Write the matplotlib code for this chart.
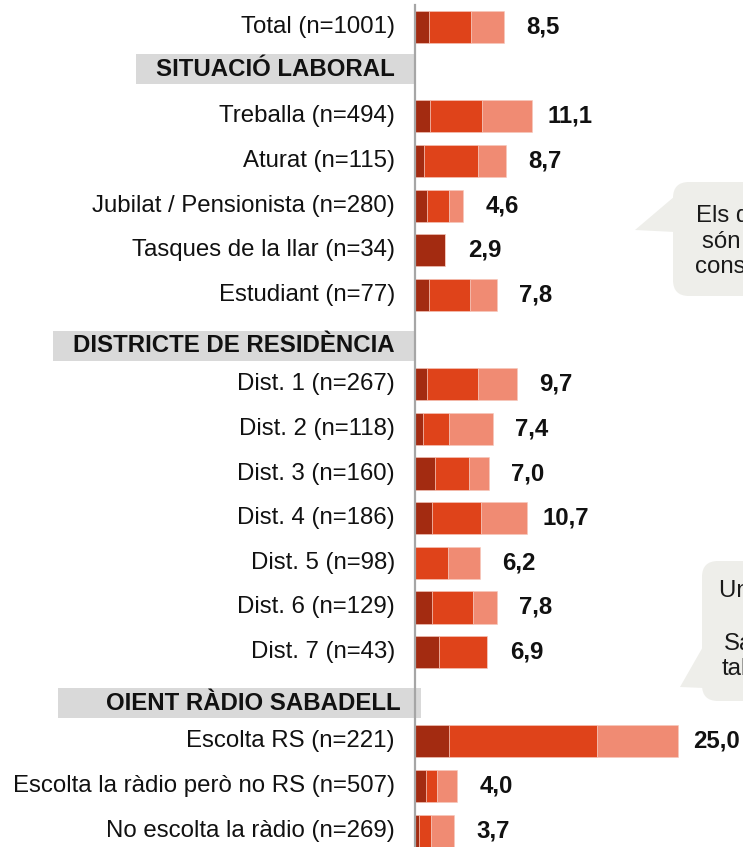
import matplotlib
matplotlib.use("Agg")
import matplotlib.pyplot as plt
import matplotlib.transforms as mtransforms
from matplotlib.patches import Rectangle, FancyBboxPatch, Polygon

plt.rcParams['font.family'] = ['Liberation Sans', 'DejaVu Sans']

# rows (top to bottom), split in sections after the first "Total" row
total_label = 'Total (n=1001)'
sections = ['SITUACIÓ LABORAL', 'DISTRICTE DE RESIDÈNCIA', 'OIENT RÀDIO SABADELL']
section_rows = [
    ['Treballa (n=494)', 'Aturat (n=115)', 'Jubilat / Pensionista (n=280)',
     'Tasques de la llar (n=34)', 'Estudiant (n=77)'],
    ['Dist. 1 (n=267)', 'Dist. 2 (n=118)', 'Dist. 3 (n=160)', 'Dist. 4 (n=186)',
     'Dist. 5 (n=98)', 'Dist. 6 (n=129)', 'Dist. 7 (n=43)'],
    ['Escolta RS (n=221)', 'Escolta la ràdio però no RS (n=507)',
     'No escolta la ràdio (n=269)'],
]

# stacked segments, same order as the rows (Total first)
dark = [1.3, 1.4, 0.9, 1.1, 2.9, 1.3, 1.1, 0.8, 1.9, 1.6, 0.0, 1.6, 2.3, 3.2, 1.0, 0.4]
mid = [4.0, 5.0, 5.1, 2.1, 0.0, 3.9, 4.9, 2.4, 3.2, 4.7, 3.1, 3.9, 4.6, 14.1, 1.1, 1.1]
light = [3.2, 4.7, 2.7, 1.4, 0.0, 2.6, 3.7, 4.2, 1.9, 4.4, 3.1, 2.3, 0.0, 7.7, 1.9, 2.2]
totals = [8.5, 11.1, 8.7, 4.6, 2.9, 7.8, 9.7, 7.4, 7.0, 10.7, 6.2, 7.8, 6.9, 25.0, 4.0, 3.7]

bubble1_lines = ['Els desocupats', 'són els que més', 'consumeixen']
bubble2_lines = ['Un de cada quatre', 'Sabadell', 'tabac']

W, H = 743, 847
FS = 17.3
colors = ['#a32b11', '#df431a', '#f08b73']
bubble_color = '#eeeeea'

# slot positions: Total, header, rows..., header, rows...
labels = [total_label]
slots = [0]
header_slots = []
s = 1
for name, rows in zip(sections, section_rows):
    header_slots.append(s)
    s += 1
    for r in rows:
        labels.append(r)
        slots.append(s)
        s += 1

fig = plt.figure(figsize=(W / 100, H / 100), dpi=100)
slot_px = 44.65
top_px = 5
ax = fig.add_axes([415 / W, 0, (W - 415) / W, (H - top_px) / H])
ax.set_xlim(0, (W - 415) / 10.5)
ax.set_ylim((H - 27) / slot_px, (top_px - 27) / slot_px)

lefts = [0] * len(dark)
for seg, c in zip([dark, mid, light], colors):
    ax.barh(slots, seg, left=lefts, height=0.72, color=c,
            edgecolor='#f6c9bd', linewidth=0.4)
    lefts = [a + b for a, b in zip(lefts, seg)]

for lab, y, tot in zip(labels, slots, totals):
    ax.annotate(lab, xy=(0, y), xytext=(-14.4, 0), textcoords='offset points',
                ha='right', va='center', fontsize=FS, color='#111111',
                annotation_clip=False)
    ax.annotate(f'{tot:.1f}'.replace('.', ','), xy=(tot, y), xytext=(28, 0),
                textcoords='offset points', ha='center', va='center',
                fontsize=FS, fontweight='bold', color='#111111',
                annotation_clip=False)

# section headers with grey boxes (pixel geometry)
header_geom = [(136, 416, 395, -0.05), (53, 416, 395, 0.14), (58, 421, 401, 0.15)]
blend = mtransforms.blended_transform_factory(ax.transAxes, ax.transData)
axw = W - 415
for name, hs, (bl, br, tr, off) in zip(sections, header_slots, header_geom):
    y = hs + off
    hgt = 30 / slot_px
    ax.add_patch(Rectangle(((bl - 415) / axw, y - hgt / 2), (br - bl) / axw, hgt,
                           transform=blend, facecolor='#d9d9d9', edgecolor='none',
                           clip_on=False, zorder=0))
    ax.text((tr - 415) / axw, y, name, transform=blend, ha='right', va='center',
            fontsize=FS, fontweight='bold', color='#111111')

for side in ['top', 'right', 'bottom']:
    ax.spines[side].set_visible(False)
ax.spines['left'].set_color('#a6a6a6')
ax.spines['left'].set_linewidth(1.6)
ax.set_xticks([])
ax.set_yticks([])

# speech bubbles, pixel coords from the top-left corner
px = mtransforms.Affine2D().scale(0.01, -0.01).translate(0, H / 100) + fig.dpi_scale_trans


def bubble(x0, y0, x1, y1, tail, lines, xs, ys):
    fig.patches.append(FancyBboxPatch((x0, y0), x1 - x0, y1 - y0,
                                      boxstyle='round,pad=0,rounding_size=16',
                                      transform=px, facecolor=bubble_color,
                                      edgecolor='none'))
    fig.patches.append(Polygon(tail, closed=True, transform=px,
                               facecolor=bubble_color, edgecolor='none'))
    for t, x, y in zip(lines, xs, ys):
        fig.text(x, y, t, transform=px, ha='left', va='center',
                 fontsize=FS, color='#1a1a1a')


bubble(673, 182, 860, 296, [(675, 196), (635, 230), (675, 232)],
       bubble1_lines, [696, 702, 695], [216, 242, 267])
bubble(702, 561, 860, 701, [(704, 645), (680, 687), (704, 688)],
       bubble2_lines, [719, 724, 722], [591, 644, 669])

fig.savefig('out.png', dpi=100)
